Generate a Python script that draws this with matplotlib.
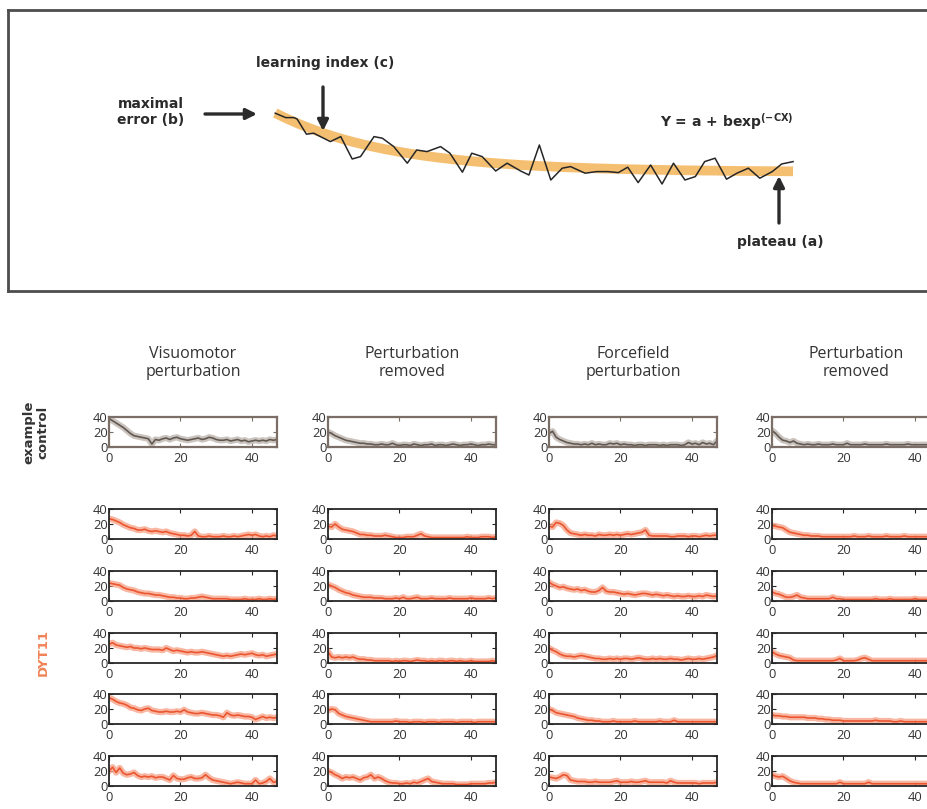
import matplotlib.pyplot as plt
import numpy as np

W, H = 928, 809
plt.rcParams['font.family'] = ['Open Sans', 'DejaVu Sans']
plt.rcParams['mathtext.default'] = 'bf'

# example learning curve (trial, error) with exponential fit
demo_trial = [1.0, 2.0, 2.8, 3.1, 4.0, 4.7, 6.3, 7.3, 8.4, 9.2, 10.5, 11.3, 12.4, 13.7,
              14.6, 15.6, 16.9, 17.8, 19.0, 19.9, 20.9, 22.2, 23.3, 24.6, 25.4, 26.4,
              27.5, 28.6, 29.4, 30.8, 31.9, 33.0, 34.0, 34.9, 35.9, 37.1, 38.2, 39.3,
              40.4, 41.4, 42.3, 43.3, 44.4, 45.4, 46.5, 47.6, 48.8, 49.7, 50.8]
demo_err = [38.4, 36.2, 36.2, 35.5, 27.9, 28.4, 24.2, 26.7, 15.5, 16.7, 26.7, 25.9, 21.7,
            13.4, 20.0, 19.2, 21.7, 18.4, 8.9, 18.4, 16.7, 9.5, 13.4, 9.5, 7.5, 22.5, 5.0,
            10.9, 11.7, 8.4, 9.2, 9.2, 8.7, 11.4, 3.7, 12.5, 3.0, 13.4, 5.0, 6.7, 14.2,
            15.9, 5.4, 8.4, 10.9, 5.9, 9.2, 13.0, 14.2]
fit_a, fit_b, fit_c = 9.0, 29.5, 0.09

col_titles = ['Visuomotor\nperturbation', 'Perturbation\nremoved',
              'Forcefield\nperturbation', 'Perturbation\nremoved']

# control subject, one series per condition
ctrl_vm = [38, 35, 32, 29, 26, 22, 18, 15, 14, 13, 12, 11, 4, 10, 9, 11, 12, 10, 12, 13, 11, 10, 9, 10,
           11, 12, 10, 11, 13, 12, 10, 9, 9, 10, 8, 9, 10, 8, 9, 7, 8, 9, 8, 9, 8, 10, 9, 10]
ctrl_vm_off = [20, 18, 15, 13, 11, 9, 8, 7, 6, 5, 5, 4, 4, 3, 3, 4, 3, 3, 5, 3, 2, 3, 3, 2,
               4, 3, 2, 3, 3, 4, 2, 3, 3, 2, 3, 4, 3, 2, 3, 3, 4, 3, 2, 3, 3, 4, 3, 3]
ctrl_ff = [18, 21, 13, 10, 8, 6, 5, 4, 4, 3, 4, 3, 5, 3, 4, 3, 3, 5, 4, 5, 3, 4, 3, 3,
           2, 3, 3, 2, 3, 3, 3, 2, 3, 2, 3, 3, 3, 2, 3, 6, 4, 5, 3, 6, 4, 5, 3, 8]
ctrl_ff_off = [22, 18, 13, 9, 8, 6, 8, 5, 4, 3, 4, 3, 3, 4, 3, 3, 3, 4, 3, 3, 3, 5, 3, 3,
               3, 3, 4, 3, 3, 3, 3, 3, 4, 3, 3, 3, 3, 3, 4, 3, 3, 3, 3, 3, 3, 3, 3, 3]

# DYT11 patients, five per condition
dyt_vm = [
    [27, 26, 24, 22, 19, 17, 15, 14, 12, 12, 13, 11, 10, 11, 10, 9, 10, 8, 7, 6, 5, 5, 4, 5,
     10, 4, 3, 3, 4, 3, 3, 3, 4, 3, 3, 4, 3, 4, 5, 6, 5, 6, 4, 3, 4, 3, 5, 4],
    [24, 23, 22, 21, 18, 16, 15, 14, 12, 11, 10, 10, 9, 8, 8, 7, 6, 5, 5, 4, 4, 3, 3, 4,
     4, 5, 6, 5, 4, 3, 3, 3, 3, 3, 2, 2, 2, 2, 3, 2, 2, 2, 3, 2, 2, 3, 2, 3],
    [25, 27, 24, 23, 22, 21, 22, 20, 20, 19, 20, 19, 18, 18, 18, 17, 20, 18, 16, 17, 16, 15, 14, 15,
     14, 14, 15, 14, 13, 12, 11, 10, 9, 10, 9, 10, 11, 12, 11, 12, 13, 11, 10, 11, 9, 10, 11, 12],
    [35, 33, 30, 28, 27, 25, 22, 21, 19, 18, 20, 21, 18, 17, 16, 16, 17, 16, 16, 17, 16, 19, 16, 15,
     14, 14, 15, 14, 13, 12, 12, 11, 9, 15, 12, 11, 12, 11, 10, 10, 9, 6, 8, 10, 8, 9, 8, 9],
    [20, 25, 18, 24, 17, 15, 16, 18, 14, 12, 13, 12, 13, 11, 12, 12, 10, 8, 14, 10, 9, 9, 11, 12,
     10, 10, 11, 15, 11, 8, 7, 6, 5, 4, 3, 4, 5, 4, 3, 3, 3, 8, 3, 4, 6, 10, 5, 6],
]
dyt_vm_off = [
    [17, 16, 20, 16, 13, 12, 11, 10, 8, 6, 6, 5, 5, 4, 4, 4, 5, 4, 3, 2, 2, 2, 3, 3,
     3, 5, 7, 4, 3, 2, 2, 2, 2, 2, 2, 2, 2, 2, 2, 3, 2, 2, 2, 3, 3, 3, 2, 3],
    [22, 20, 18, 15, 13, 11, 10, 8, 7, 6, 5, 5, 5, 4, 4, 4, 3, 3, 3, 4, 3, 5, 3, 3,
     4, 5, 3, 3, 3, 4, 3, 3, 3, 3, 4, 3, 3, 3, 3, 3, 4, 3, 3, 3, 3, 4, 3, 4],
    [15, 8, 7, 8, 7, 8, 7, 8, 6, 5, 5, 4, 4, 3, 3, 3, 3, 3, 2, 3, 2, 3, 3, 2,
     3, 4, 3, 3, 2, 3, 2, 3, 3, 2, 3, 3, 2, 3, 2, 2, 3, 2, 2, 2, 2, 2, 3, 2],
    [18, 20, 19, 14, 12, 10, 9, 8, 7, 6, 5, 4, 3, 3, 3, 3, 3, 3, 3, 4, 3, 3, 3, 2,
     3, 3, 3, 2, 3, 3, 3, 2, 3, 3, 3, 3, 2, 3, 3, 3, 3, 2, 3, 3, 3, 3, 3, 3],
    [20, 18, 15, 13, 10, 12, 11, 12, 10, 8, 11, 12, 15, 10, 12, 10, 7, 5, 4, 4, 3, 3, 4, 3,
     5, 4, 6, 8, 10, 6, 5, 4, 3, 3, 3, 3, 2, 2, 2, 2, 3, 3, 3, 3, 3, 4, 4, 5],
]
dyt_ff = [
    [17, 16, 22, 21, 18, 12, 8, 7, 6, 5, 6, 5, 5, 4, 6, 5, 5, 6, 5, 6, 5, 6, 7, 6,
     7, 8, 9, 12, 5, 4, 4, 4, 4, 4, 3, 3, 4, 4, 4, 3, 4, 4, 3, 4, 5, 4, 5, 5],
    [25, 22, 20, 18, 19, 17, 16, 15, 16, 14, 15, 13, 12, 12, 14, 18, 13, 12, 12, 11, 10, 9, 10, 9,
     8, 9, 10, 10, 9, 8, 9, 8, 7, 8, 7, 6, 7, 6, 6, 7, 6, 6, 7, 6, 8, 7, 6, 7],
    [20, 17, 15, 12, 10, 9, 9, 8, 9, 10, 9, 8, 7, 6, 6, 5, 5, 6, 5, 6, 5, 6, 6, 5,
     6, 7, 6, 5, 5, 6, 5, 6, 5, 5, 6, 5, 5, 4, 5, 6, 5, 5, 6, 5, 6, 7, 8, 10],
    [20, 18, 15, 14, 13, 12, 11, 10, 8, 7, 6, 5, 5, 4, 4, 3, 3, 3, 4, 3, 3, 3, 3, 3,
     4, 3, 3, 3, 3, 3, 3, 4, 3, 3, 3, 5, 3, 3, 3, 3, 3, 3, 3, 3, 3, 3, 3, 3],
    [12, 11, 10, 12, 15, 14, 8, 7, 6, 6, 6, 5, 5, 6, 5, 5, 5, 5, 6, 7, 5, 5, 5, 6,
     5, 5, 6, 7, 5, 5, 5, 5, 5, 4, 7, 5, 4, 4, 4, 4, 4, 4, 3, 4, 4, 4, 4, 5],
]
dyt_ff_off = [
    [18, 17, 16, 15, 12, 9, 8, 7, 6, 5, 5, 4, 4, 4, 3, 3, 3, 3, 3, 3, 3, 3, 3, 4,
     3, 3, 3, 4, 3, 3, 3, 3, 4, 3, 3, 3, 3, 4, 3, 3, 3, 3, 3, 3, 3, 3, 3, 3],
    [12, 10, 9, 7, 5, 5, 6, 8, 5, 4, 3, 3, 3, 3, 3, 3, 3, 5, 3, 3, 2, 2, 2, 2,
     2, 2, 2, 2, 2, 3, 2, 2, 2, 3, 2, 2, 2, 2, 2, 2, 3, 2, 2, 2, 2, 2, 2, 2],
    [15, 12, 10, 9, 8, 7, 4, 3, 3, 3, 3, 3, 3, 3, 3, 3, 3, 3, 4, 6, 3, 3, 3, 3,
     4, 6, 7, 5, 3, 3, 3, 3, 3, 3, 3, 3, 3, 3, 3, 3, 3, 3, 3, 3, 3, 3, 3, 3],
    [12, 11, 11, 10, 10, 9, 9, 9, 9, 9, 8, 8, 8, 7, 7, 6, 6, 5, 5, 5, 4, 4, 4, 4,
     4, 4, 4, 4, 4, 5, 4, 4, 4, 4, 3, 3, 4, 3, 3, 3, 3, 3, 3, 3, 3, 3, 3, 3],
    [15, 13, 12, 13, 10, 7, 5, 4, 3, 3, 3, 3, 3, 3, 3, 3, 3, 3, 3, 5, 3, 3, 3, 3,
     3, 3, 3, 5, 3, 3, 3, 3, 3, 3, 3, 3, 3, 3, 3, 3, 3, 3, 3, 3, 3, 3, 3, 3],
]

bold = ['DejaVu Sans']
dark = '#2b2b2b'


def box(left, top, w, h):
    # pixel box (from top-left) -> figure fraction rect
    return [left / W, 1 - (top + h) / H, w / W, h / H]


fig = plt.figure(figsize=(W / 100, H / 100), dpi=100)

# ---- top panel: model of the learning curve ----
top = fig.add_axes(box(8, 10, 940, 281))
top.set_xlim(-24.7, 65.7)
top.set_ylim(-50.5, 90)
top.set_xticks([])
top.set_yticks([])
for s in top.spines.values():
    s.set_color('#4d4d4d')
    s.set_linewidth(2)

t = np.linspace(demo_trial[0], demo_trial[-1], 200)
top.plot(t, fit_a + fit_b * np.exp(-fit_c * (t - 1)), color='#f4b459', lw=7, alpha=0.85,
         solid_capstyle='butt')
top.plot(demo_trial, demo_err, color='#262626', lw=1.1)

arrow = dict(arrowstyle='-|>', lw=2.4, color=dark, mutation_scale=16, shrinkA=0, shrinkB=0)
top.annotate('', xy=(257, H - 114), xytext=(205, H - 114), xycoords='figure pixels',
             textcoords='figure pixels', arrowprops=arrow)
top.annotate('', xy=(323, H - 131), xytext=(323, H - 87), xycoords='figure pixels',
             textcoords='figure pixels', arrowprops=arrow)
top.annotate('', xy=(779, H - 176), xytext=(779, H - 223), xycoords='figure pixels',
             textcoords='figure pixels', arrowprops=arrow)

fig.text(151 / W, 1 - 112 / H, 'maximal\nerror (b)', ha='center', va='center',
         fontsize=10, fontweight='bold', family=bold, color=dark, linespacing=1.25)
fig.text(325 / W, 1 - 63 / H, 'learning index (c)', ha='center', va='center',
         fontsize=10, fontweight='bold', family=bold, color=dark)
fig.text(727 / W, 1 - 122 / H, r'Y = a + bexp$^{(-CX)}$', ha='center', va='center',
         fontsize=10, fontweight='bold', family=bold, color=dark)
fig.text(780 / W, 1 - 242 / H, 'plateau (a)', ha='center', va='center',
         fontsize=10, fontweight='bold', family=bold, color=dark)

# ---- grid of per-subject curves ----
col_left = [109, 328, 549, 772]
row_top = [417, 509, 571, 633, 694, 756]
ax_w, ax_h = 168, 30

columns = [
    [ctrl_vm] + dyt_vm,
    [ctrl_vm_off] + dyt_vm_off,
    [ctrl_ff] + dyt_ff,
    [ctrl_ff_off] + dyt_ff_off,
]

for c, series in enumerate(columns):
    fig.text((col_left[c] + ax_w / 2) / W, 1 - 363 / H, col_titles[c], ha='center',
             va='center', fontsize=11.5, color='#333333', linespacing=1.2)
    for r, vals in enumerate(series):
        ax = fig.add_axes(box(col_left[c], row_top[r], ax_w, ax_h))
        x = np.arange(len(vals))
        if r == 0:
            band, line, frame, fw = '#bdb4ae', '#625953', '#7a6e66', 1.6
        else:
            band, line, frame, fw = '#f7a58b', '#eb5630', '#262626', 1.3
        ax.plot(x, vals, color=band, lw=4.5, alpha=0.8, solid_joinstyle='round')
        ax.plot(x, vals, color=line, lw=1.2)
        ax.set_xlim(0, 47)
        ax.set_ylim(0, 40)
        ax.set_xticks([0, 20, 40])
        ax.set_yticks([0, 20, 40])
        ax.tick_params(direction='in', length=3, width=0.8, top=True, right=True,
                       labelsize=9.3, colors=frame)
        ax.tick_params(axis='x', pad=3.5)
        ax.tick_params(axis='y', pad=1)
        for lab in ax.get_xticklabels() + ax.get_yticklabels():
            lab.set_color('#333333')
        for s in ax.spines.values():
            s.set_color(frame)
            s.set_linewidth(fw)

fig.text(36 / W, 1 - 432 / H, 'example\ncontrol', rotation=90, ha='center', va='center',
         fontsize=9.5, fontweight='bold', family=bold, color='#333333', linespacing=1.1)
fig.text(43 / W, 1 - 653 / H, 'DYT11', rotation=90, ha='center', va='center',
         fontsize=9.5, fontweight='bold', family=bold, color='#f08457')

fig.savefig('out.png', dpi=100)
